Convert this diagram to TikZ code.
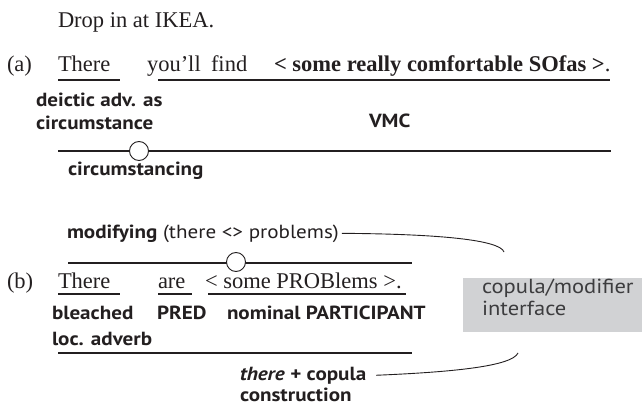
\documentclass[tikz,border=0pt]{standalone}
\usepackage{fontspec}
\setmainfont{Liberation Serif}
\setsansfont{PT Sans}[FakeStretch=1.11]
\definecolor{ink}{HTML}{231F20}
\definecolor{boxgray}{HTML}{D1D2D4}
\definecolor{boxink}{HTML}{3C3C3E}

\begin{document}
\begin{tikzpicture}[x=1pt,y=-1pt,
  every node/.style={inner sep=0pt, outer sep=0pt, anchor=base west, text=ink},
  serif/.style={font=\fontsize{22.5}{26}\selectfont},
  lab/.style={font=\sffamily\bfseries\fontsize{19}{23}\selectfont},
  labplain/.style={font=\sffamily\fontsize{19}{23}\selectfont},
  boxtext/.style={font=\sffamily\fontsize{20.3}{24}\selectfont, text=boxink},
  rule/.style={draw=ink, line width=1.1pt},
  hinge/.style={circle, draw=ink, fill=white, line width=0.9pt, minimum size=19pt, anchor=center},
  lead/.style={draw=ink, line width=0.9pt},
  ifacebox/.style={fill=boxgray, minimum width=179pt, minimum height=54pt, anchor=north west}]

\useasboundingbox (0,0) rectangle (642,406);

% heading line
\node[serif] (title) at (58,28) {Drop in at IKEA.};

% ---------------- example (a) ----------------
\node[serif] (la)     at (7,72)   {(a)};
\node[serif] (aThere) at (58,72)  {There};
\node[serif] (ayou)   at (147,72) {you’ll};
\node[serif] (afind)  at (211,72) {find};
\node[serif] (asofas) at (274,72) {\textbf{< some really comfortable SOfas >}.};

\coordinate (uA1s) at (58,80);  \coordinate (uA1e) at (120,80);
\coordinate (uA2s) at (158,80); \coordinate (uA2e) at (610,80);
\draw[rule] (uA1s) -- (uA1e);
\draw[rule] (uA2s) -- (uA2e);

\node[lab] (deictic) at (36,107)  {deictic adv. as};
\node[lab] (circ)    at (36,130)  {circumstance};
\node[lab] (vmc)     at (369,128) {VMC};

\coordinate (lineAs) at (58,151); \coordinate (lineAe) at (611,151);
\draw[rule] (lineAs) -- (lineAe);
\node[hinge] (hingeA) at (139,151) {};
\node[lab] (circing) at (68,176) {circumstancing};

% ---------------- example (b) ----------------
\node[labplain] (modif) at (67,238) {\textbf{modifying} (there <> problems)};

\coordinate (lineBs) at (68,263); \coordinate (lineBe) at (412,263);
\draw[rule] (lineBs) -- (lineBe);
\node[hinge] (hingeB) at (236,262) {};

\node[serif] (lb)     at (7,288)   {(b)};
\node[serif] (bThere) at (58,288)  {There};
\node[serif] (bare)   at (158,288) {are};
\node[serif] (bprob)  at (205,288) {< some PROBlems >.};

\coordinate (uB1s) at (58,294);  \coordinate (uB1e) at (120,294);
\coordinate (uB2s) at (158,294); \coordinate (uB2e) at (192,294);
\coordinate (uB3s) at (208,294); \coordinate (uB3e) at (406,294);
\draw[rule] (uB1s) -- (uB1e);
\draw[rule] (uB2s) -- (uB2e);
\draw[rule] (uB3s) -- (uB3e);

\node[lab] (bleached) at (52,319)  {bleached};
\node[lab] (pred)     at (157,319) {PRED};
\node[lab] (nompart)  at (227,319) {nominal PARTICIPANT};
\node[lab] (locadv)   at (52,345)  {loc. adverb};

\coordinate (lineCs) at (58,353); \coordinate (lineCe) at (412,353);
\draw[rule] (lineCs) -- (lineCe);

\node[lab] (therecop) at (240,380) {\textit{there} + copula};
\node[lab] (constr)   at (240,401) {construction};

% interface box and its two leaders
\node[ifacebox] (iface) at (463,278) {};
\node[boxtext] (ifaceA) at (482,293) {copula/modifier};
\node[boxtext] (ifaceB) at (482,315) {interface};

\coordinate (braceTop) at (504,252);
\coordinate (braceBot) at (518,353);
\draw[lead] ([xshift=3pt]modif.east) .. controls (440,234) and (500,240) .. (braceTop);
\draw[lead] ([xshift=10pt]therecop.east) .. controls (455,372) and (512,366) .. (braceBot);

\end{tikzpicture}
\end{document}
